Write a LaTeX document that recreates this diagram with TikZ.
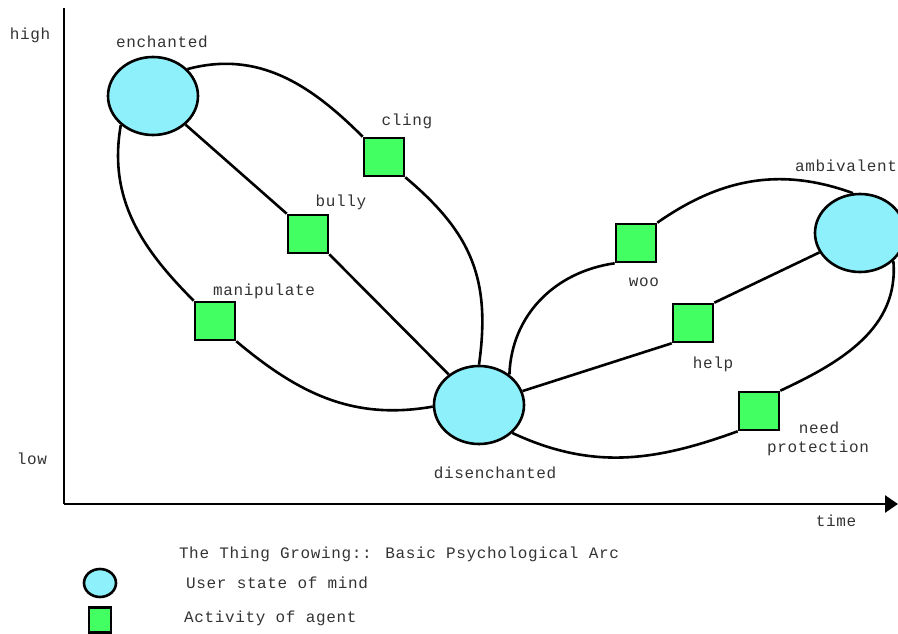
\documentclass[tikz,border=0pt]{standalone}
\usepackage{fontspec}
\newfontfamily\arcfont[LetterSpace=4]{Liberation Mono}
\usetikzlibrary{shapes.geometric,arrows.meta}

\definecolor{mindcyan}{RGB}{142,240,250}
\definecolor{actgreen}{RGB}{66,255,98}

\begin{document}
\begin{tikzpicture}[x=1pt,y=1pt,
		state/.style={draw, ellipse, line width=2.6pt, fill=mindcyan,
			minimum width=90pt, minimum height=78pt, inner sep=0pt},
		activity/.style={draw, rectangle, line width=2.6pt, fill=actgreen,
			minimum width=40pt, minimum height=38pt, inner sep=0pt},
		lbl/.style={font=\arcfont\fontsize{16}{18}\selectfont, text=black!80, inner sep=0pt},
		arc/.style={line width=2.6pt}]
		\useasboundingbox (0, 0) rectangle (898, 633);

		\coordinate (o) at (64, 129);
		\coordinate (ytop) at (64, 625);
		\coordinate (xend) at (898, 129);

		\node[state] (enchanted) at (153, 537) {};
		\node[state] (disenchanted) at (479, 228) {};
		\node[state] (ambivalent) at (860, 400) {};

		\node[activity] (cling) at (384, 476) {};
		\node[activity] (bully) at (308, 399) {};
		\node[activity] (manipulate) at (215, 312) {};
		\node[activity] (woo) at (636, 390) {};
		\node[activity] (help) at (693, 310) {};
		\node[activity] (needprot) at (759, 222) {};

		% axes
		\draw[arc] (o) -- (ytop);
		\draw[arc, -{Triangle[length=13pt,width=17pt]}] (o) -- (xend);

		% straight paths
		\draw[arc] (enchanted) -- (bully.north west);
		\draw[arc] (bully.south east) -- (disenchanted);
		\draw[arc] (disenchanted) -- (help.south west);
		\draw[arc] (help.north east) -- (ambivalent);

		% curved paths
		\draw[arc] (enchanted.38) to[out=15, in=135] (cling.north west);
		\draw[arc] (cling.south east) to[out=-40, in=82, looseness=1.1] (disenchanted.90);
		\draw[arc] (enchanted.222) to[out=-100, in=135] (manipulate.north west);
		\draw[arc] (manipulate.south east) to[out=-40, in=190] (disenchanted.182);
		\draw[arc] (disenchanted.45) to[out=88, in=188] (woo.south west);
		\draw[arc] (woo.north east) to[out=35, in=160] (ambivalent.100);
		\draw[arc] (disenchanted.-40) to[out=-25, in=200] (needprot.south west);
		\draw[arc] (needprot.north east) to[out=25, in=-85] (ambivalent.-40);

		% labels
		\node[lbl] (high) at (30, 598) {high};
		\node[lbl] (low) at (32, 174) {low};
		\node[lbl] (time) at (836, 112) {time};
		\node[lbl] (enchantedlbl) at (162, 591) {enchanted};
		\node[lbl] (disenchantedlbl) at (495, 160) {disenchanted};
		\node[lbl] (ambivalentlbl) at (846, 467) {ambivalent};
		\node[lbl] (clinglbl) at (407, 512) {cling};
		\node[lbl] (bullylbl) at (341, 431) {bully};
		\node[lbl] (manipulatelbl) at (264, 342) {manipulate};
		\node[lbl] (woolbl) at (644, 351) {woo};
		\node[lbl] (helplbl) at (713, 269) {help};
		\node[lbl] (needlbl) at (819, 205) {need};
		\node[lbl] (protectionlbl) at (818, 185) {protection};

		% legend
		\node[lbl] (title) at (399, 79) {The Thing Growing:: Basic Psychological Arc};
		\node[draw, ellipse, line width=2.6pt, fill=mindcyan, minimum width=32pt,
			minimum height=28pt, inner sep=0pt] (keystate) at (100, 50) {};
		\node[lbl, anchor=west] (keystatelbl) at (186, 50) {User state of mind};
		\node[draw, rectangle, line width=2.6pt, fill=actgreen, minimum width=22pt,
			minimum height=25pt, inner sep=0pt] (keyact) at (100, 13) {};
		\node[lbl, anchor=west] (keyactlbl) at (184, 15) {Activity of agent};
	\end{tikzpicture}
\end{document}
